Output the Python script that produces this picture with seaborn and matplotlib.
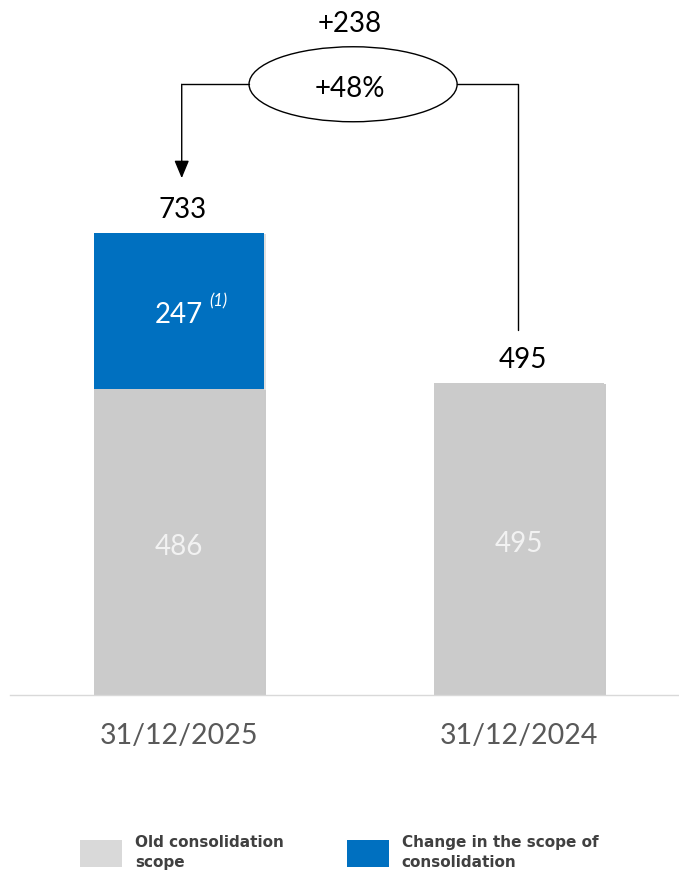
import matplotlib
matplotlib.use("Agg")
import matplotlib.pyplot as plt
import matplotlib.patheffects as pe
from matplotlib.patches import Ellipse, Patch
import seaborn as sns
import pandas as pd

# ---- data ----
dates = ["31/12/2025", "31/12/2024"]
old_scope = [486, 495]
scope_change = [247, 0]
legend_labels = ["Old consolidation\nscope", "Change in the scope of\nconsolidation"]
note_mark = "(1)"

totals = [o + c for o, c in zip(old_scope, scope_change)]
diff = totals[0] - totals[1]
pct = diff / totals[1] * 100

df = pd.DataFrame({"date": dates, "old": old_scope, "change": scope_change, "total": totals})

GRAY = "#CBCBCB"
LEG_GRAY = "#D9D9D9"
BLUE = "#0070C0"

sns.set_style("white")
plt.rcParams["font.family"] = ["Lato", "DejaVu Sans"]

fig = plt.figure(figsize=(6.79, 8.75), dpi=100)
ax = fig.add_axes([10 / 679, (875 - 695) / 875, 669 / 679, 695 / 875])

sns.barplot(data=df, x="date", y="total", order=dates, color=BLUE, width=0.5,
            saturation=1, ax=ax, linewidth=0)
sns.barplot(data=df, x="date", y="old", order=dates, color=GRAY, width=0.5,
            saturation=1, ax=ax, linewidth=0)

for p in ax.patches:
    p.set_path_effects([pe.SimplePatchShadow(offset=(1.5, -1), shadow_rgbFace="#9a9a9a", alpha=0.3),
                        pe.Normal()])

scale = 462 / 733.0
ax.set_xlim(-169 / 340, 500 / 340)
ax.set_ylim(0, 695 / scale)

for s in ["left", "right", "top"]:
    ax.spines[s].set_visible(False)
ax.spines["bottom"].set_color("#D9D9D9")
ax.spines["bottom"].set_linewidth(1)
ax.set_yticks([])
ax.set_xlabel("")
ax.set_ylabel("")
ax.tick_params(axis="x", length=0, pad=20, labelsize=20.5, labelcolor="#595959")

# totals above bars
for i, t in enumerate(totals):
    ax.text(i + 0.01, t + 24, f"{t}", ha="center", va="baseline", fontsize=20, color="black")

# values inside bars
for i, (o, c) in enumerate(zip(old_scope, scope_change)):
    ax.text(i, o / 2 - 21, f"{o}", ha="center", va="baseline", fontsize=20, color="#F2F2F2")
    if c > 0:
        mid = o + c / 2
        ax.text(i, mid - 19, f"{c}", ha="center", va="baseline", fontsize=20, color="white")
        ax.text(0.09, mid + 7, note_mark, ha="left", va="baseline", fontsize=12,
                style="italic", color="white")

# difference annotation
ell_x, ell_y = 0.512, 969
ax.add_patch(Ellipse((ell_x, ell_y), width=0.612, height=119, fill=False,
                     ec="black", lw=1, clip_on=False))
ax.text(0.503, 949, f"+{pct:.0f}%", ha="center", va="baseline", fontsize=20, color="black")
ax.text(0.503, 1052, f"+{diff}", ha="center", va="baseline", fontsize=20, color="black")

ax.plot([ell_x - 0.306, 0.008], [ell_y, ell_y], color="black", lw=1, clip_on=False)
ax.annotate("", xy=(0.008, 820), xytext=(0.008, ell_y),
            arrowprops=dict(arrowstyle="-|>,head_length=0.6,head_width=0.25", color="black",
                            lw=1, mutation_scale=18, shrinkA=0, shrinkB=0))
ax.plot([ell_x + 0.306, 0.996, 0.996], [ell_y, ell_y, 579], color="black", lw=1, clip_on=False)

# legend
handles = [Patch(facecolor=LEG_GRAY, edgecolor="none"), Patch(facecolor=BLUE, edgecolor="none")]
leg = fig.legend(handles, legend_labels, loc="upper left", bbox_to_anchor=(80 / 679, 1 - 835 / 875),
                 ncol=2, frameon=False, handlelength=2.75, handleheight=2.4, handletextpad=0.85,
                 columnspacing=4.1, borderpad=0, borderaxespad=0,
                 prop={"family": "DejaVu Sans", "weight": "bold", "size": 11})
for t in leg.get_texts():
    t.set_color("#404040")
    t.set_linespacing(1.4)

fig.savefig("out.png", dpi=100)
